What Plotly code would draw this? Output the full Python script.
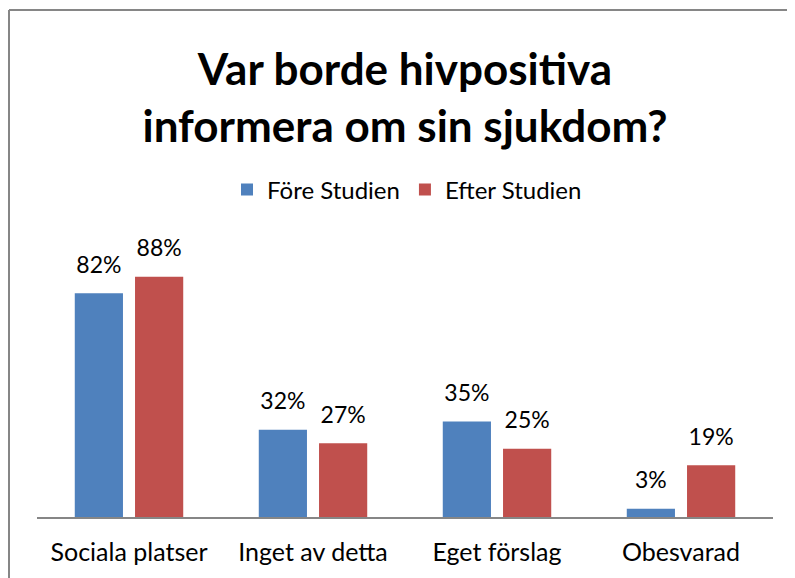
import plotly.graph_objects as go

categories = ["Sociala platser", "Inget av detta", "Eget förslag", "Obesvarad"]
fore_values = [82, 32, 35, 3]
efter_values = [88, 27, 25, 19]
series_names = ["Före Studien", "Efter Studien"]
colors = ["#4F81BD", "#C0504D"]

OFF = 8  # default page body margin
W, H = 795 - OFF, 578 - OFF
L, R, T, B = 37 - OFF, W - (773 - OFF), 244 - OFF, H - (517 - OFF)
pw, ph = W - L - R, H - T - B

def px_x(x):
    return (x - OFF - L) / pw

def px_y(y):
    return (H - B - (y - OFF)) / ph

fig = go.Figure()
groups = ["g1", "g2"]
for name, vals, col, g in zip(series_names, [fore_values, efter_values], colors, groups):
    fig.add_trace(go.Bar(
        x=categories, y=vals, name=name, offsetgroup=g,
        marker=dict(color=col, line=dict(width=0)),
    ))
for vals, g in zip([fore_values, efter_values], groups):
    fig.add_trace(go.Scatter(
        x=categories, y=vals, offsetgroup=g, mode="markers+text",
        marker=dict(size=22, opacity=0), showlegend=False, hoverinfo="skip",
        text=[f"{v}%" for v in vals], textposition="top center",
        textfont=dict(family="Lato", size=23, color="black"),
        cliponaxis=False,
    ))

border = dict(color="#868686", width=2)
fig.update_layout(
    width=W, height=H,
    margin=dict(l=L, r=R, t=T, b=B, autoexpand=False),
    paper_bgcolor="white", plot_bgcolor="white",
    barmode="group", bargap=0.345, bargroupgap=0.2,
    scattermode="group", scattergap=0.345,
    title=dict(
        text="<b>Var borde hivpositiva<br>informera om sin sjukdom?</b>",
        font=dict(family="Lato", size=44, color="black"),
        x=(405 - OFF) / W, xref="container", xanchor="center",
        y=1 - (85 - OFF) / H, yref="container", yanchor="middle",
    ),
    legend=dict(
        orientation="h", x=(407 - OFF) / W, xref="container", xanchor="center",
        y=1 - (190 - OFF) / H, yref="container", yanchor="middle",
        font=dict(family="Lato", size=24, color="black"),
        bgcolor="rgba(0,0,0,0)",
    ),
    xaxis=dict(
        showline=True, linecolor="#868686", linewidth=1.5, automargin=False,
        showgrid=False, ticks="", ticklabelstandoff=12,
        tickfont=dict(family="Lato", size=25, color="black"),
    ),
    yaxis=dict(range=[0, 100], visible=False, showgrid=False, automargin=False),
    showlegend=True,
    shapes=[
        dict(type="line", xref="paper", yref="paper",
             x0=px_x(9), x1=px_x(9), y0=px_y(620), y1=px_y(10),
             line=border, layer="below"),
        dict(type="line", xref="paper", yref="paper",
             x0=px_x(9), x1=px_x(840), y0=px_y(10), y1=px_y(10),
             line=border, layer="below"),
    ],
)

fig.write_html("out.html")
